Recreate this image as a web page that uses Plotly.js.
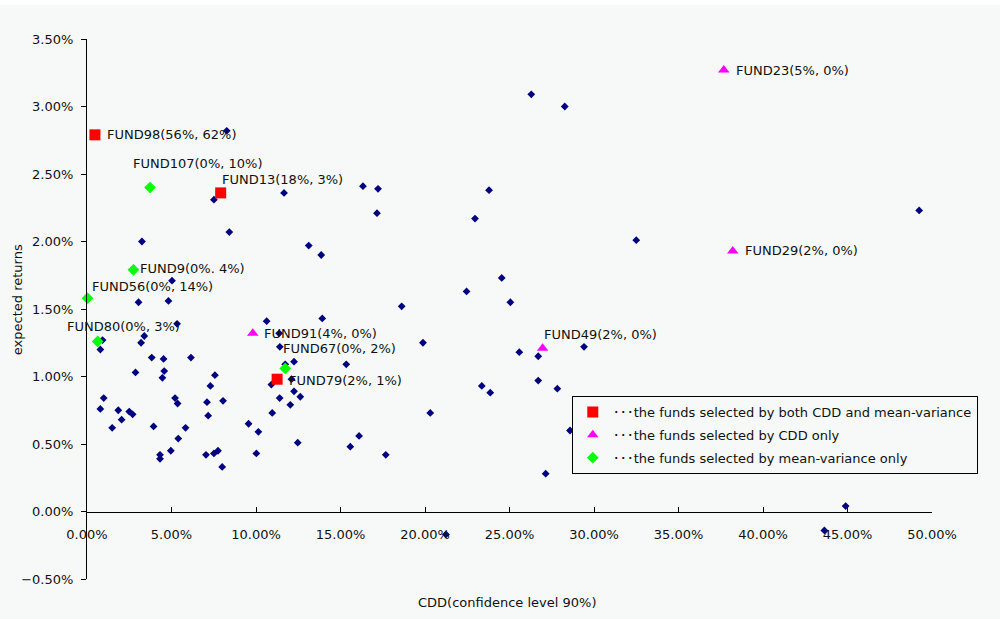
<!DOCTYPE html>
<html>
<head>
<meta charset="utf-8">
<script src="https://cdn.plot.ly/plotly-3.0.1.min.js"></script>
<style>html,body{margin:0;padding:0;background:#f6f9f7;}#chart{width:1000px;height:619px;}</style>
</head>
<body>
<div id="chart"></div>
<script>
// ---- data (CDD % , expected return %) ----
const otherCDD = [8.27,7.51,8.42,3.25,11.66,13.12,13.86,5.03,4.82,3.05,5.33,0.92,0.79,3.39,3.20,3.83,4.53,6.15,2.87,4.57,4.46,7.57,7.30,0.99,0.79,5.21,5.36,7.10,8.05,1.85,2.50,2.70,2.05,7.17,1.49,3.94,5.83,5.40,4.96,4.32,4.32,7.04,7.51,7.75,8.00,9.56,10.14,10.02,10.96,10.91,10.63,11.37,11.41,11.73,12.25,12.10,11.40,12.25,12.62,12.03,12.47,13.92,26.29,28.27,16.33,17.22,17.16,23.79,22.96,32.50,24.54,22.46,25.05,18.62,19.88,15.34,25.58,26.70,29.41,26.70,27.83,23.36,23.86,20.31,16.10,15.58,17.68,28.58,27.14,21.24,49.24,44.89,43.63];
const otherRet = [2.82,2.31,2.07,2.00,2.36,1.97,1.90,1.71,1.56,1.55,1.39,1.27,1.20,1.30,1.25,1.14,1.13,1.14,1.03,1.04,0.99,1.01,0.93,0.84,0.76,0.84,0.80,0.81,0.82,0.75,0.74,0.72,0.68,0.71,0.62,0.63,0.62,0.54,0.45,0.42,0.39,0.42,0.43,0.45,0.33,0.65,0.59,0.43,0.73,0.94,1.41,1.32,1.22,1.09,1.11,0.98,0.84,0.89,0.85,0.79,0.51,1.43,3.09,3.00,2.41,2.39,2.21,2.38,2.17,2.01,1.73,1.63,1.55,1.52,1.25,1.09,1.18,1.15,1.22,0.97,0.91,0.93,0.88,0.73,0.56,0.48,0.42,0.60,0.28,-0.17,2.23,0.04,-0.14];

const bothNames = ["FUND98(56%, 62%)","FUND13(18%, 3%)","FUND79(2%, 1%)"];
const bothCDD = [0.47, 7.91, 11.25];
const bothRet = [2.79, 2.36, 0.98];

const cddNames = ["FUND23(5%, 0%)","FUND29(2%, 0%)","FUND91(4%, 0%)","FUND49(2%, 0%)"];
const cddCDD = [37.68, 38.21, 9.81, 26.96];
const cddRet = [3.27, 1.93, 1.32, 1.21];

const mvNames = ["FUND107(0%, 10%)","FUND9(0%. 4%)","FUND56(0%, 14%)","FUND80(0%, 3%)","FUND67(0%, 2%)"];
const mvCDD = [3.73, 2.75, 0.03, 0.63, 11.73];
const mvRet = [2.40, 1.79, 1.58, 1.26, 1.06];

const legendNames = ["･･･the funds selected by both CDD and mean-variance","･･･the funds selected by CDD only","･･･the funds selected by mean-variance only"];
const xTitle = "CDD(confidence level 90%)";
const yTitle = "expected returns";

// ---- label placement (pixel offsets, style only) ----
const labelShift = {
  "FUND98(56%, 62%)":[10,0], "FUND13(18%, 3%)":[-1,13], "FUND79(2%, 1%)":[10,-1],
  "FUND23(5%, 0%)":[10,0], "FUND29(2%, 0%)":[10,0], "FUND91(4%, 0%)":[9,0], "FUND49(2%, 0%)":[-1,14],
  "FUND107(0%, 10%)":[-19,24], "FUND9(0%. 4%)":[5,1], "FUND56(0%, 14%)":[2,12], "FUND80(0%, 3%)":[-33,15], "FUND67(0%, 2%)":[-4,20]
};

const FONT = "'DejaVu Sans', sans-serif";
const FS = 13;
const BG = "#f6f9f7";
const TXT = '#111';

const traces = [
  {type:'scatter', mode:'markers', x:otherCDD, y:otherRet, showlegend:false, cliponaxis:false,
   marker:{symbol:'diamond', size:6, color:'#000080'}, hoverinfo:'x+y'},
  {type:'scatter', mode:'markers', x:bothCDD, y:bothRet, name:legendNames[0], legendgroup:'a', cliponaxis:false,
   marker:{symbol:'square', size:11, color:'#ff0000'}, text:bothNames},
  {type:'scatter', mode:'markers', x:cddCDD, y:cddRet, name:legendNames[1], legendgroup:'b', cliponaxis:false,
   marker:{symbol:'triangle-up', size:10, color:'#ff00ff'}, text:cddNames},
  {type:'scatter', mode:'markers', x:mvCDD, y:mvRet, name:legendNames[2], legendgroup:'c', cliponaxis:false,
   marker:{symbol:'diamond', size:9, color:'#00ff00'}, text:mvNames}
];

const annotations = [];
function addLabels(names, xs, ys){
  names.forEach((n,i)=>{
    const s = labelShift[n] || [10,0];
    annotations.push({x:xs[i], y:ys[i], xref:'x', yref:'y', text:n, showarrow:false,
      xanchor:'left', yanchor:'middle', xshift:s[0], yshift:s[1],
      font:{family:FONT, size:FS, color:TXT}});
  });
}
addLabels(bothNames, bothCDD, bothRet);
addLabels(cddNames, cddCDD, cddRet);
addLabels(mvNames, mvCDD, mvRet);

annotations.push({xref:'paper', yref:'paper', x:0.497, y:-0.0438, text:xTitle, showarrow:false,
  xanchor:'center', yanchor:'middle', font:{family:FONT, size:FS, color:TXT}});
annotations.push({xref:'paper', yref:'paper', x:-0.0827, y:0.5165, text:yTitle, showarrow:false, textangle:-90,
  xanchor:'center', yanchor:'middle', font:{family:FONT, size:FS, color:TXT}});

const layout = {
  width:1000, height:619,
  margin:{l:87, r:68, t:38.5, b:39.7, pad:0},
  paper_bgcolor:BG, plot_bgcolor:BG,
  font:{family:FONT, size:FS, color:TXT},
  xaxis:{range:[0,50], dtick:5, tick0:0, tickformat:'.2f', ticksuffix:'%',
    anchor:'free', position:0.125, showline:true, linecolor:'#000', linewidth:1,
    ticks:'inside', ticklen:5, tickcolor:'#000', showgrid:false, zeroline:false,
    ticklabelstandoff:11,
    tickfont:{family:FONT, size:FS, color:TXT}},
  yaxis:{range:[-0.5,3.5], dtick:0.5, tick0:0, tickformat:'.2f', ticksuffix:'%',
    showline:true, linecolor:'#000', linewidth:1, ticks:'outside', ticklen:5, tickcolor:'#000',
    ticklabelstandoff:5,
    showgrid:false, zeroline:false, tickfont:{family:FONT, size:FS, color:TXT}},
  legend:{x:0.5737, y:0.339, xanchor:'left', yanchor:'top', bgcolor:BG, bordercolor:'#000', borderwidth:1,
    font:{family:FONT, size:FS, color:TXT}, tracegroupgap:3, itemwidth:30},
  annotations:annotations,
  shapes:[{type:'rect', xref:'paper', yref:'paper', x0:-0.2, x1:1.2, y0:1.0629, y1:1.08, fillcolor:'#ffffff', line:{width:0}, layer:'below'}],
  showlegend:true
};

Plotly.newPlot('chart', traces, layout, {displayModeBar:false, staticPlot:true});
</script>
</body>
</html>
